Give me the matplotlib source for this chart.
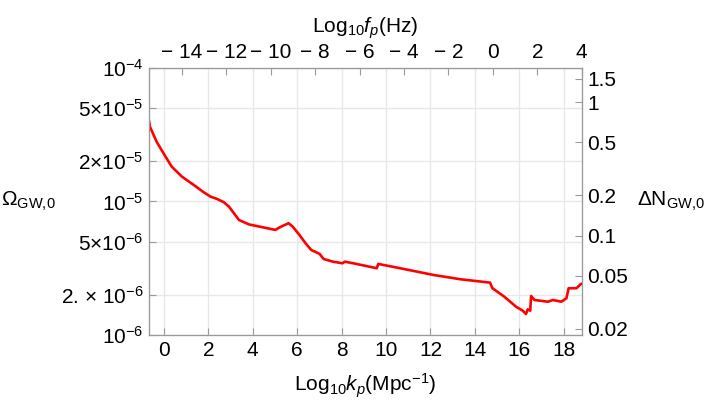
import numpy as np
import matplotlib
matplotlib.use('Agg')
import matplotlib.pyplot as plt
from matplotlib.ticker import FixedLocator, NullLocator

plt.rcParams['font.family'] = ['Liberation Sans', 'DejaVu Sans']
plt.rcParams['mathtext.fontset'] = 'custom'
plt.rcParams['mathtext.rm'] = 'Liberation Sans'
plt.rcParams['mathtext.it'] = 'Liberation Sans:italic'
plt.rcParams['mathtext.bf'] = 'Liberation Sans:bold'

# curve: log10 k_p and log10 Omega_GW,0
log_k = [-0.70, -0.63, -0.33, -0.02, 0.35, 0.81, 1.34, 1.79, 2.10, 2.39, 2.70,
         2.93, 3.15, 3.38, 3.83, 4.44, 5.01, 5.27, 5.61, 5.80, 6.10, 6.40, 6.63,
         7.01, 7.19, 7.61, 8.04, 8.14, 8.52, 9.58, 9.65, 10.63, 12.15, 13.36,
         14.68, 14.79, 15.32, 15.85, 16.15, 16.30, 16.38, 16.49, 16.53, 16.68,
         17.29, 17.51, 17.89, 18.12, 18.22, 18.57, 18.77, 18.92]
log_omega = [-4.370, -4.440, -4.552, -4.639, -4.739, -4.814, -4.876, -4.931,
             -4.964, -4.981, -5.006, -5.039, -5.088, -5.139, -5.172, -5.193,
             -5.213, -5.189, -5.163, -5.189, -5.251, -5.318, -5.363, -5.393,
             -5.431, -5.451, -5.463, -5.451, -5.463, -5.500, -5.468, -5.500,
             -5.551, -5.583, -5.608, -5.650, -5.713, -5.788, -5.818, -5.843,
             -5.808, -5.818, -5.708, -5.738, -5.751, -5.738, -5.751, -5.725,
             -5.650, -5.650, -5.618, -5.613]

k_ticks = [0, 2, 4, 6, 8, 10, 12, 14, 16, 18]
f_ticks = [-14, -12, -10, -8, -6, -4, -2, 0, 2, 4]
f_labels = ['\u2212 14', '\u2212 12', '\u2212 10', '\u2212 8', '\u2212 6',
            '\u2212 4', '\u2212 2', '0', '2', '4']
omega_ticks = [1e-6, 2e-6, 5e-6, 1e-5, 2e-5, 5e-5, 1e-4]
omega_labels = ['$10^{-6}$', '2. \u00d7 $10^{-6}$', '5\u00d7$10^{-6}$', '$10^{-5}$',
                '2\u00d7$10^{-5}$', '5\u00d7$10^{-5}$', '$10^{-4}$']
dn_ticks = [0.02, 0.05, 0.1, 0.2, 0.5, 1, 1.5]
dn_labels = ['0.02', '0.05', '0.1', '0.2', '0.5', '1', '1.5']

f_offset = 14.81     # log10 f_p = log10 k_p - f_offset
dn_factor = 1.8e4    # Delta N = dn_factor * Omega
xlim = (-0.67, 18.82)
ylim = (1e-6, 1e-4)

gray = '#999999'
fs = 15

fig = plt.figure(figsize=(7.08, 4.07), dpi=100)
ax = fig.add_axes([0.2105, 0.177, 0.6115, 0.656])
ax.plot(log_k, 10 ** np.array(log_omega), color='#ff0000', lw=1.9, zorder=3)
ax.set_yscale('log')
ax.set_xlim(*xlim)
ax.set_ylim(*ylim)
ax.xaxis.set_major_locator(FixedLocator(k_ticks))
ax.yaxis.set_major_locator(FixedLocator(omega_ticks))
ax.yaxis.set_minor_locator(NullLocator())
ax.set_yticklabels(omega_labels)
ax.grid(color='#e8e8e8', lw=1)
ax.set_xlabel('Log$_{10}$$k_p$(Mpc$^{-1}$)', fontsize=fs, labelpad=9)

ax_r = ax.twinx()
ax_r.set_yscale('log')
ax_r.set_ylim(dn_factor * ylim[0], dn_factor * ylim[1])
ax_r.yaxis.set_major_locator(FixedLocator(dn_ticks))
ax_r.yaxis.set_minor_locator(NullLocator())
ax_r.set_yticklabels(dn_labels)

ax_t = ax.twiny()
ax_t.set_xlim(xlim[0] - f_offset, xlim[1] - f_offset)
ax_t.xaxis.set_major_locator(FixedLocator(f_ticks))
ax_t.set_xticklabels(f_labels)
ax_t.set_xlabel('Log$_{10}$$f_p$(Hz)', fontsize=fs, labelpad=8)

for a in (ax, ax_r, ax_t):
    for s in a.spines.values():
        s.set_color(gray)
    a.tick_params(which='both', direction='in', length=5, color=gray,
                  labelsize=fs, pad=4)

fig.text(0.002, 0.505, '$\\Omega_{\\mathrm{GW{,}0}}$', fontsize=fs, va='center', ha='left')
fig.text(0.9, 0.505, '$\\Delta \\mathrm{N}_{\\mathrm{GW{,}0}}$', fontsize=fs, va='center', ha='left')

fig.savefig('out.png', dpi=100)
